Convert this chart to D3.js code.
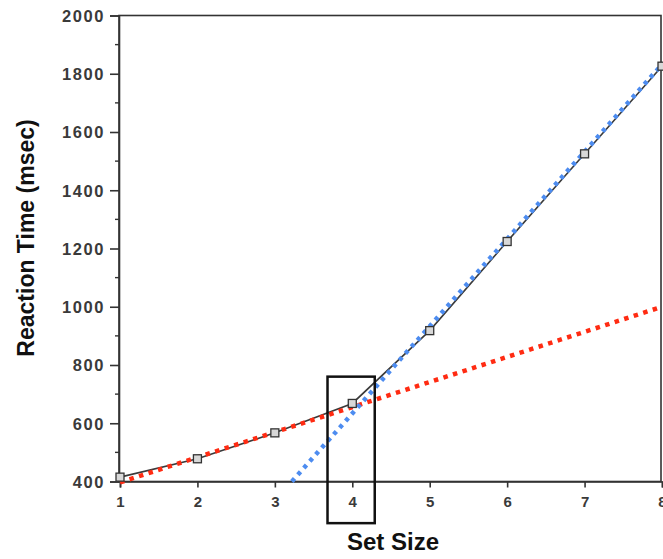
<!DOCTYPE html>
<html><head><meta charset="utf-8">
<script src="https://cdn.jsdelivr.net/npm/d3@7"></script>
<style>body{margin:0;background:#fff}svg{display:block}</style>
</head><body>
<script>
const setSizes = [1,2,3,4,5,6,7,8];
const reactionTimes = [415,478,567,668,918,1224,1525,1826];
const redFit = [[1,397],[8,1000]];
const blueFit = [[3.22,400],[8,1832]];
const highlightBox = {x0:3.68, x1:4.29, y0:257, y1:760};
const yMajorTicks = [400,600,800,1000,1200,1400,1600,1800,2000];
const yMinorTicks = [500,700,900,1100,1300,1500,1700,1900];
const xTicks = [1,2,3,4,5,6,7,8];

const W=663,H=559;
const svg=d3.select("body").append("svg").attr("width",W).attr("height",H);
const x=d3.scaleLinear().domain([1,8]).range([120,662]);
const y=d3.scaleLinear().domain([400,2000]).range([481.5,15.5]);

const font="'Liberation Sans', Arial, sans-serif";

// frame
svg.append("rect").attr("x",x(1)-1).attr("y",y(2000)).attr("width",x(8)-x(1)).attr("height",y(400)-y(2000))
  .attr("fill","none").attr("stroke","#333").attr("stroke-width",1.6);

// y axis
const yAxis=d3.axisLeft(y).tickValues(yMajorTicks).tickSize(9).tickPadding(5).tickFormat(d3.format("d"));
const gy=svg.append("g").attr("transform",`translate(${x(1)-1},0)`).call(yAxis);
gy.select(".domain").attr("stroke","#333").attr("stroke-width",1.6);
gy.selectAll(".tick line").attr("stroke","#333").attr("stroke-width",1.6);
gy.selectAll(".tick text").attr("font-family",font).attr("font-size",16.5).attr("font-weight","bold")
  .attr("letter-spacing","1.6px").attr("fill","#3a3a3a").attr("dy","0.36em");
gy.selectAll(".minor").data(yMinorTicks).enter().append("line")
  .attr("x1",-4).attr("x2",1).attr("y1",d=>y(d)).attr("y2",d=>y(d)).attr("stroke","#333").attr("stroke-width",1.4);

// x axis
const xAxis=d3.axisBottom(x).tickValues(xTicks).tickSize(6).tickPadding(9).tickFormat(d3.format("d"));
const gx=svg.append("g").attr("transform",`translate(0,${y(400)})`).call(xAxis);
gx.select(".domain").attr("stroke","#333").attr("stroke-width",1.6);
gx.selectAll(".tick line").attr("stroke","#333").attr("stroke-width",1.6);
gx.selectAll(".tick text").attr("font-family",font).attr("font-size",15).attr("font-weight","bold").attr("fill","#3a3a3a");

// data line
const line=d3.line().x(d=>x(d[0])).y(d=>y(d[1]));
const pts=setSizes.map((s,i)=>[s,reactionTimes[i]]);
svg.append("path").attr("d",line(pts)).attr("fill","none").attr("stroke","#3a3a3a").attr("stroke-width",1.6);

// fits
svg.append("path").attr("d",line(redFit)).attr("fill","none").attr("stroke","#ff2b12")
  .attr("stroke-width",4.5).attr("stroke-dasharray","4.5,5.5");
svg.append("path").attr("d",line(blueFit)).attr("fill","none").attr("stroke","#4d8cf0")
  .attr("stroke-width",4.5).attr("stroke-dasharray","4,5");

// markers
svg.selectAll(".m").data(pts).enter().append("rect")
  .attr("x",d=>x(d[0])-4).attr("y",d=>y(d[1])-4).attr("width",8).attr("height",8)
  .attr("fill","#d8d8d8").attr("stroke","#333").attr("stroke-width",1.3);

// highlight box
svg.append("rect").attr("x",x(highlightBox.x0)).attr("y",y(highlightBox.y1))
  .attr("width",x(highlightBox.x1)-x(highlightBox.x0)).attr("height",y(highlightBox.y0)-y(highlightBox.y1))
  .attr("fill","none").attr("stroke","#111").attr("stroke-width",2.5);

// titles
svg.append("text").attr("x",393).attr("y",550).attr("text-anchor","middle")
  .attr("font-family",font).attr("font-size",24).attr("font-weight","bold").attr("fill","#111").text("Set Size");
svg.append("text").attr("transform","translate(34,238) rotate(-90)").attr("text-anchor","middle")
  .attr("font-family",font).attr("font-size",23).attr("font-weight","bold").attr("fill","#111").text("Reaction Time (msec)");
</script>
</body></html>
